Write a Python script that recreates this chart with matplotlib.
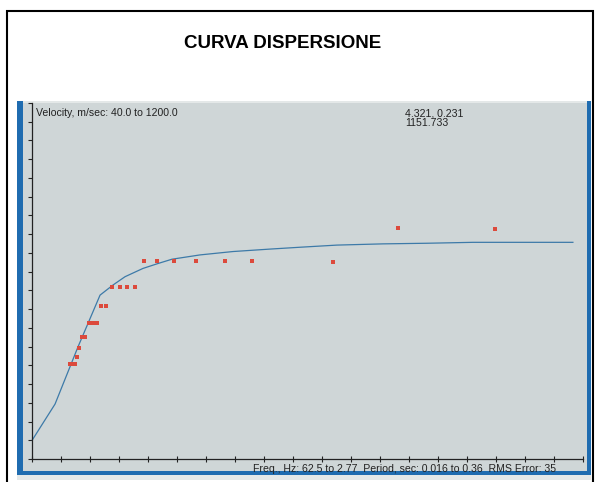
import matplotlib
matplotlib.use("Agg")
import matplotlib.pyplot as plt
from matplotlib.patches import Rectangle
import numpy as np

# ---- data (period in s, velocity in m/s) ----
pt_period = [0.0395, 0.0411, 0.0427, 0.0439, 0.0453, 0.0472, 0.0487,
             0.0516, 0.0539, 0.0561, 0.0592, 0.0620,
             0.0656, 0.0708, 0.0751, 0.0801,
             0.0857, 0.0940, 0.1047, 0.1182, 0.1363, 0.1530,
             0.2035, 0.2441, 0.3051]
pt_velocity = [349, 349, 349, 372, 403, 438, 438,
               482, 482, 482, 538, 538,
               601, 601, 601, 601,
               686, 686, 686, 685, 685, 685,
               683, 792, 790]

curve_period = [0.0160, 0.0302, 0.0445, 0.0583, 0.0664, 0.0739, 0.0851,
                0.0945, 0.1032, 0.1207, 0.1413, 0.1644, 0.1831, 0.2062,
                0.2349, 0.2624, 0.2911, 0.3329, 0.3535]
curve_velocity = [102, 219, 405, 574, 607, 634, 661,
                  677, 691, 705, 716, 724, 730, 737,
                  741, 743, 746, 746, 746]

x_range = (0.016, 0.36)
y_range = (40.0, 1200.0)
n_intervals = 19

title = "CURVA DISPERSIONE"
y_label = "Velocity, m/sec: 40.0 to 1200.0"
x_label = "Freq., Hz: 62.5 to 2.77  Period, sec: 0.016 to 0.36  RMS Error: 35"
readout1 = "4.321, 0.231"
readout2 = "1151.733"

W, H = 599, 482
fig = plt.figure(figsize=(W / 100, H / 100), dpi=100)
fig.patch.set_facecolor("white")

def fx(px):
    return px / W

def fy(py):
    return 1 - py / H

def rect(x0, y0, x1, y1, z, **kw):
    fig.patches.append(Rectangle((fx(x0), fy(y1)), fx(x1) - fx(x0), fy(y0) - fy(y1),
                                 transform=fig.transFigure, figure=fig, zorder=z, **kw))

# outer frame
rect(6.5, 11, 592.5, 490, -5, facecolor="none", edgecolor="black", linewidth=1.5)
# panel
rect(17, 101, 591, 480, -4, facecolor="#e4e8e8", edgecolor="none")
rect(17, 103, 591, 471, -3, facecolor="#cfd6d7", edgecolor="none")
# blue bars
blue = "#1f6cb0"
rect(17, 101, 23, 475, -2, facecolor=blue, edgecolor="none")
rect(587, 101, 591, 475, -2, facecolor=blue, edgecolor="none")
rect(17, 471, 591, 475, -2, facecolor=blue, edgecolor="none")

ax = fig.add_axes([fx(32.3), fy(459), fx(583.3) - fx(32.3), fy(103) - fy(459)])
ax.set_zorder(1)
ax.set_facecolor("none")
ax.set_xlim(*x_range)
ax.set_ylim(*y_range)
for s in ["top", "right"]:
    ax.spines[s].set_visible(False)
for s in ["left", "bottom"]:
    ax.spines[s].set_color("#222222")
    ax.spines[s].set_linewidth(0.9)
ax.set_xticks(np.linspace(*x_range, n_intervals + 1))
ax.set_yticks(np.linspace(*y_range, n_intervals + 1))
ax.tick_params(axis="x", direction="inout", length=5, width=0.8, color="#222222",
               labelbottom=False)
ax.tick_params(axis="y", direction="out", length=3, width=0.8, color="#222222",
               labelleft=False)

ax.plot(curve_period, curve_velocity, color="#3d7aa8", linewidth=0.9, zorder=2,
        clip_on=False)
ax.plot(pt_period, pt_velocity, linestyle="none", marker="s", markersize=2.7,
        markerfacecolor="#dc4a3c", markeredgecolor="#dc4a3c", markeredgewidth=0,
        zorder=3)

font = "Liberation Sans"
fig.text(fx(283), fy(43), title, ha="center", va="center", fontsize=13.5,
         fontweight="bold", family=font, color="black", zorder=5)
fig.text(fx(36), fy(113), y_label, ha="left", va="center", fontsize=7.6,
         family=font, color="#222222", zorder=5)
fig.text(fx(405), fy(113), readout1, ha="left", va="center", fontsize=7.6,
         family=font, color="#222222", zorder=5)
fig.text(fx(405), fy(122.5), readout2, ha="left", va="center", fontsize=7.6,
         family=font, color="#222222", zorder=5)
fig.text(fx(253), fy(469.5), x_label, ha="left", va="center", fontsize=7.6,
         family=font, color="#222222", zorder=5)

fig.savefig("out.png", dpi=100)
